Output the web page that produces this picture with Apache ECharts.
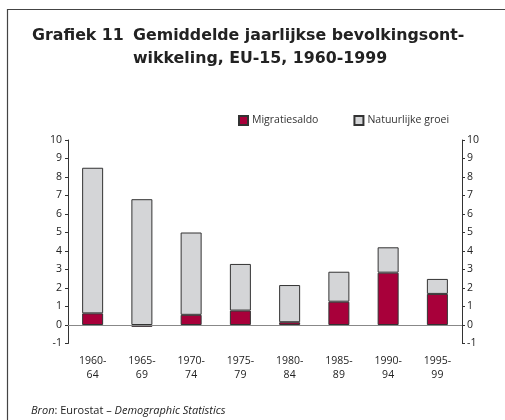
<!DOCTYPE html>
<html><head><meta charset="utf-8">
<script src="https://cdn.jsdelivr.net/npm/echarts@6/dist/echarts.min.js"></script>
<style>html,body{margin:0;padding:0;background:#fff}#c{width:505px;height:420px}</style>
</head><body><div id="c"></div>
<script>
var categories = ['1960-\n64','1965-\n69','1970-\n74','1975-\n79','1980-\n84','1985-\n89','1990-\n94','1995-\n99'];
var migratiesaldo = [0.63, -0.1, 0.55, 0.78, 0.15, 1.26, 2.83, 1.68];
var natuurlijkeGroei = [7.87, 6.8, 4.45, 2.52, 2.01, 1.62, 1.37, 0.81];
var seriesNames = ['Migratiesaldo', 'Natuurlijke groei'];
var yTicks = {min: -1, max: 10, interval: 1};

var chart = echarts.init(document.getElementById('c'), null, {renderer: 'canvas'});
var lf = 'Open Sans';
var tf = 'DejaVu Sans';
var axisLabelStyle = {color: '#222', fontSize: 10.5, fontFamily: lf};
var titleStyle = {fontFamily: tf, fontWeight: 'bold', fontSize: 15.8, color: '#222', lineHeight: 23};
chart.setOption({
  animation: false,
  backgroundColor: '#fff',
  title: [
    {text: 'Grafiek 11', left: 27, top: 19, textStyle: titleStyle},
    {text: 'Gemiddelde jaarlijkse bevolkingsont-\nwikkeling, EU-15, 1960-1999', left: 128, top: 19, textStyle: titleStyle}
  ],
  legend: {
    left: 233, top: 110, itemWidth: 9, itemHeight: 9, itemGap: 35,
    icon: 'rect',
    textStyle: {fontFamily: lf, fontSize: 10.5, color: '#333', padding: [0,0,0,-1]},
    data: seriesNames
  },
  grid: {left: 68, right: 43, top: 140, bottom: 76.5},
  xAxis: {
    type: 'category', data: categories,
    axisLine: {show: false}, axisTick: {show: false},
    axisLabel: Object.assign({margin: 11, lineHeight: 14, interval: 0}, axisLabelStyle)
  },
  yAxis: [
    {type: 'value', min: yTicks.min, max: yTicks.max, interval: yTicks.interval, position: 'left',
     splitLine: {show: false},
     axisLine: {show: true, lineStyle: {color: '#333', width: 1}},
     axisTick: {show: true, length: 3, lineStyle: {color: '#333'}},
     axisLabel: Object.assign({margin: 6}, axisLabelStyle)},
    {type: 'value', min: yTicks.min, max: yTicks.max, interval: yTicks.interval, position: 'right',
     splitLine: {show: false},
     axisLine: {show: true, lineStyle: {color: '#333', width: 1}},
     axisTick: {show: true, length: 3, lineStyle: {color: '#333'}},
     axisLabel: Object.assign({margin: 5}, axisLabelStyle)}
  ],
  series: [
    {name: seriesNames[0], type: 'bar', stack: 'a', data: migratiesaldo, barWidth: 21,
     itemStyle: {color: '#a8003a', borderColor: '#333', borderWidth: 1},
     markLine: {silent: true, symbol: 'none', label: {show: false}, lineStyle: {color: '#888', width: 1, type: 'solid'}, data: [{yAxis: 0}]}},
    {name: seriesNames[1], type: 'bar', stack: 'a', data: natuurlijkeGroei, barWidth: 21,
     itemStyle: {color: '#d4d5d7', borderColor: '#333', borderWidth: 1}}
  ],
  graphic: [
    {type: 'line', shape: {x1: 7, y1: 9.5, x2: 505, y2: 9.5}, style: {stroke: '#444', lineWidth: 1.2}},
    {type: 'line', shape: {x1: 7.5, y1: 9, x2: 7.5, y2: 420}, style: {stroke: '#444', lineWidth: 1.2}},
    {type: 'text', left: 31, top: 405, style: {
      text: '{i|Bron}: Eurostat – {i|Demographic Statistics}',
      font: '11px "Open Sans"', fill: '#222',
      rich: {i: {fontStyle: 'italic', fontFamily: 'Open Sans', fontSize: 11, fill: '#222'}}
    }}
  ]
});
</script></body></html>
